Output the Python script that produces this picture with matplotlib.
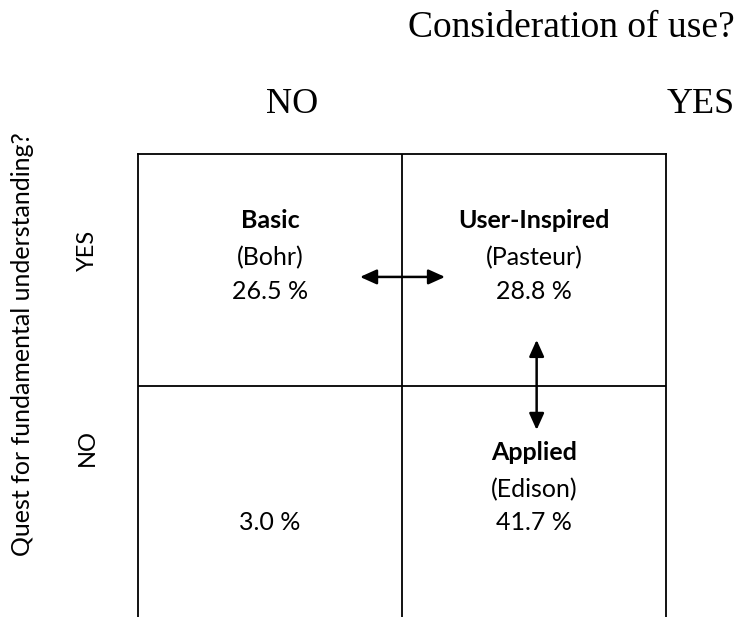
import matplotlib
matplotlib.use("Agg")
import matplotlib.pyplot as plt

# quadrant data (col 0 = no use, col 1 = use; row 1 = fundamental YES)
quad_titles = ["Basic", "User-Inspired", "", "Applied"]
quad_names = ["(Bohr)", "(Pasteur)", "", "(Edison)"]
quad_shares = [26.5, 28.8, 3.0, 41.7]
quad_cols = [0, 1, 0, 1]
quad_rows = [1, 1, 0, 0]

col_labels = ["NO", "YES"]
row_labels = ["YES", "NO"]
x_title = "Consideration of use?"
y_title = "Quest for fundamental understanding?"

W, H = 736, 617
fig = plt.figure(figsize=(W / 100, H / 100), dpi=100)
ax = fig.add_axes([138 / W, 0, 528 / W, 1 - 154 / H])
ax.set_xlim(0, 2)
ax.set_ylim(0, 2)
ax.set_xticks([])
ax.set_yticks([])
for s in ["left", "right", "top"]:
    ax.spines[s].set_linewidth(1.3)
ax.spines["bottom"].set_visible(False)
ax.axvline(1, color="black", lw=1.3)
ax.axhline(1, color="black", lw=1.3)

sans = "Lato"
fs = 18
for t, n, v, c, r in zip(quad_titles, quad_names, quad_shares, quad_cols, quad_rows):
    cx = c + 0.5
    top = r + 1
    if t:
        ax.text(cx, top - 0.32, t, ha="center", va="baseline", fontsize=fs,
                fontweight="bold", family=sans)
    if n:
        ax.text(cx, top - 0.482, n, ha="center", va="baseline", fontsize=fs, family=sans)
    ax.text(cx, top - 0.626, f"{v:.1f} %", ha="center", va="baseline", fontsize=fs,
            family=sans)

arrow_kw = dict(arrowstyle="<|-|>,head_length=1.0,head_width=0.45", color="black",
                lw=1.8, shrinkA=0, shrinkB=0)
ax.annotate("", xy=(1.163, 1.469), xytext=(0.841, 1.469), arrowprops=arrow_kw)
ax.annotate("", xy=(1.51, 0.808), xytext=(1.51, 1.197), arrowprops=arrow_kw)

serif = "Liberation Serif"
fig.text(408 / W, 1 - 37 / H, x_title, ha="left", va="baseline", fontsize=27, family=serif)
fig.text(292 / W, 1 - 113 / H, col_labels[0], ha="center", va="baseline", fontsize=26,
         family=serif)
fig.text(701 / W, 1 - 113 / H, col_labels[1], ha="center", va="baseline", fontsize=26,
         family=serif)

fig.text(23 / W, 1 - 344 / H, y_title, rotation=90, ha="center", va="center",
         fontsize=18, family=sans)
fig.text(87 / W, 1 - 250 / H, row_labels[0], rotation=90, ha="center", va="center",
         fontsize=17, family=sans)
fig.text(87 / W, 1 - 447 / H, row_labels[1], rotation=90, ha="center", va="center",
         fontsize=17, family=sans)

fig.savefig("out.png", dpi=100)
